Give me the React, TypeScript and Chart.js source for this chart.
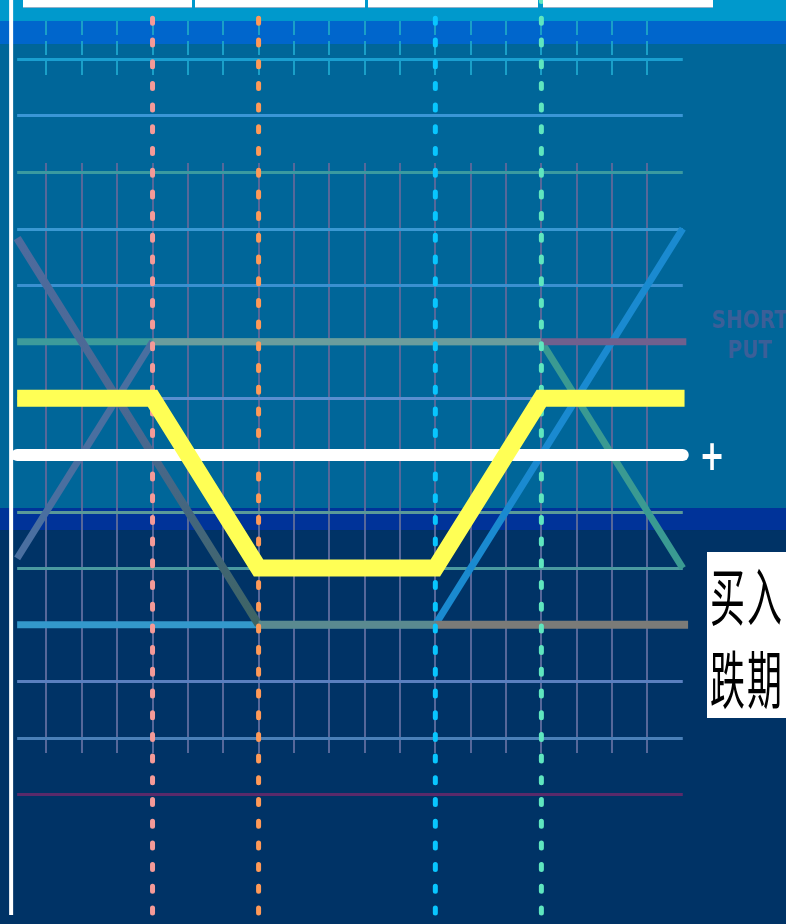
import React, { useEffect, useRef } from "react";
import { Chart, registerables } from "chart.js";

Chart.register(...registerables);

// ---- scale ranges (strike units / profit units)
const X_MIN = -0.315;
const X_MAX = 21.92;
const Y_MIN = -8.29;
const Y_MAX = 8.04;

// ---- strikes (dotted verticals)
const strikes = [4, 7, 12, 15];
const strikeColors = ["#f49a98", "#ff9a58", "#08c6ff", "#5fe6bf"];
const strikeTop = 8.1;
const strikeBottom = -8.3;

// ---- combined payoff (yellow)
const payoffX = [0.17, 4, 7, 12, 15, 19.05];
const payoffY = [1, 1, -2, -2, 1, 1];

// ---- legs
const shortCallX = [0.17, 15, 19];
const shortCallY = [2, 2, -2];
const shortCallSeg = ["#3d9b9b", "#3a9a92"];

const longCallX = [0.17, 12, 19];
const longCallY = [-3, -3, 4];
const longCallSeg = ["#3399cc", "#1a8ad0"];

const longPutX = [0.17, 7, 12, 19.15];
const longPutY = [3.83, -3, -3, -3];
const longPutSeg = ["grad", "#5a8a90", "#7b7b78"];

const shortPutX = [0.17, 4, 15, 19.1];
const shortPutY = [-1.83, 2, 2, 2];
const shortPutSeg = ["#4a6fa0", "#6b9d9d", "#70608e"];

// ---- zero line and left axis
const zeroX = [0.17, 19];
const zeroY = [0, 0];
const axisX = [0, 0];
const axisY = [8.1, -8.13];

// ---- grid
const gridX = [1, 2, 3, 4, 5, 6, 7, 8, 9, 10, 11, 12, 13, 14, 15, 16, 17, 18];
const gridXSpan = [5.16, -5.27];
const gridXTopSpan = [7.67, 6.68];
const gridY = [7, 6, 5, 4, 3, 1, -1, -2, -4, -5, -6];
const gridYColors = [
  "#1a9fd0",
  "#3a96d6",
  "#3a9aa0",
  "#3a98d2",
  "#3a90d0",
  "#5a8fd0",
  "#5a9a98",
  "#4a9aa0",
  "#5a80c0",
  "#4a80b8",
  "#5a2a6a",
];
const gridYSpan = [0.17, 19];

// ---- background bands [top, bottom, colour]
const bandTops = [Y_MAX, 7.669, 7.262, -0.938, -1.327];
const bandBottoms = [7.669, 7.262, -0.938, -1.327, Y_MIN];
const bandColors = ["#0099cc", "#0066cc", "#006699", "#003399", "#003366"];

const pts = (xs: number[], ys: number[]) => xs.map((x, i) => ({ x, y: ys[i] }));

const bgPlugin = {
  id: "bgGrid",
  beforeDraw(chart: any) {
    const { ctx, scales } = chart;
    const ys = scales.y;
    ctx.save();
    for (let i = 0; i < bandColors.length; i++) {
      const t = ys.getPixelForValue(bandTops[i]);
      const b = ys.getPixelForValue(bandBottoms[i]);
      ctx.fillStyle = bandColors[i];
      ctx.fillRect(0, t, chart.width, b - t + 0.5);
    }
    ctx.restore();
  },
  beforeDatasetsDraw(chart: any) {
    const { ctx, scales } = chart;
    const xs = scales.x;
    const ys = scales.y;
    ctx.save();
    ctx.lineWidth = 2;
    for (const gx of gridX) {
      const px = Math.round(xs.getPixelForValue(gx));
      ctx.strokeStyle = "#56689a";
      ctx.setLineDash([]);
      ctx.beginPath();
      ctx.moveTo(px, ys.getPixelForValue(gridXSpan[0]));
      ctx.lineTo(px, ys.getPixelForValue(gridXSpan[1]));
      ctx.stroke();
      ctx.strokeStyle = "#1aa0c8";
      ctx.setLineDash([14, 6]);
      ctx.beginPath();
      ctx.moveTo(px, ys.getPixelForValue(gridXTopSpan[0]));
      ctx.lineTo(px, ys.getPixelForValue(gridXTopSpan[1]));
      ctx.stroke();
    }
    ctx.setLineDash([]);
    ctx.lineWidth = 3;
    gridY.forEach((gy, i) => {
      const py = Math.round(ys.getPixelForValue(gy)) + 0.5;
      ctx.strokeStyle = gridYColors[i];
      ctx.beginPath();
      ctx.moveTo(xs.getPixelForValue(gridYSpan[0]), py);
      ctx.lineTo(xs.getPixelForValue(gridYSpan[1]), py);
      ctx.stroke();
    });
    ctx.restore();
  },
};

function longPutGradient(chart: any) {
  const ys = chart.scales.y;
  if (!ys) return "#4a6a90";
  const g = chart.ctx.createLinearGradient(0, ys.getPixelForValue(3.83), 0, ys.getPixelForValue(-3));
  g.addColorStop(0, "#4e6b9e");
  g.addColorStop(0.5, "#4a6890");
  g.addColorStop(1, "#3d6464");
  return g;
}

export default function App() {
  const canvasRef = useRef<HTMLCanvasElement | null>(null);

  useEffect(() => {
    const canvas = canvasRef.current;
    if (!canvas) return;

    const leg = (xs: number[], ys: number[], seg: string[], width: number, order: number) => ({
      data: pts(xs, ys),
      borderColor: seg[0] === "grad" ? "#4a6a90" : seg[0],
      borderWidth: width,
      pointRadius: 0,
      borderCapStyle: "butt",
      borderJoinStyle: "round",
      order,
      segment: {
        borderColor: (c: any) => {
          const s = seg[c.p0DataIndex];
          return s === "grad" ? longPutGradient(c.chart) : s;
        },
      },
    });

    const datasets: any[] = [
      {
        data: pts(payoffX, payoffY),
        borderColor: "#ffff55",
        borderWidth: 17,
        pointRadius: 0,
        borderCapStyle: "butt",
        borderJoinStyle: "miter",
        order: 0,
      },
      {
        data: pts(zeroX, zeroY),
        borderColor: "#ffffff",
        borderWidth: 12,
        pointRadius: 0,
        borderCapStyle: "round",
        order: 1,
      },
      ...strikes.map((s, i) => ({
        data: pts([s, s], [strikeTop, strikeBottom]),
        borderColor: strikeColors[i],
        borderWidth: 5,
        borderDash: [5, 16.7],
        borderCapStyle: "round",
        pointRadius: 0,
        order: 2 + i,
      })),
      leg(shortPutX, shortPutY, shortPutSeg, 7, 6),
      leg(longPutX, longPutY, longPutSeg, 8, 7),
      leg(shortCallX, shortCallY, shortCallSeg, 7, 8),
      leg(longCallX, longCallY, longCallSeg, 7, 9),
      {
        data: pts(axisX, axisY),
        borderColor: "#ffffff",
        borderWidth: 4,
        pointRadius: 0,
        order: 10,
      },
    ];

    const chart = new Chart(canvas, {
      type: "line",
      data: { datasets },
      options: {
        animation: false,
        responsive: false,
        maintainAspectRatio: false,
        devicePixelRatio: 1,
        layout: { padding: 0 },
        plugins: { legend: { display: false }, tooltip: { enabled: false } },
        elements: { line: { tension: 0 } },
        scales: {
          x: { type: "linear", min: X_MIN, max: X_MAX, display: false },
          y: { type: "linear", min: Y_MIN, max: Y_MAX, display: false },
        },
      } as any,
      plugins: [bgPlugin],
    } as any);

    return () => chart.destroy();
  }, []);

  const topBoxes = [
    [23, 192],
    [195, 365],
    [368, 538],
    [543, 713],
  ];

  return (
    <div
      style={{
        position: "absolute",
        left: 0,
        top: 0,
        width: 786,
        height: 924,
        overflow: "hidden",
        background: "#003366",
      }}
    >
      <canvas ref={canvasRef} width={786} height={924} style={{ display: "block" }} />
      {topBoxes.map(([a, b], i) => (
        <div
          key={i}
          style={{
            position: "absolute",
            left: a,
            top: 0,
            width: b - a,
            height: 7,
            background: "#ffffff",
            borderBottom: "1px solid #8fb0c8",
          }}
        />
      ))}
      <div
        style={{
          position: "absolute",
          left: 700,
          top: 304,
          width: 100,
          textAlign: "center",
          color: "#3b5f98",
          fontFamily: "'DejaVu Sans', sans-serif",
          fontWeight: "bold",
          fontSize: 20,
          lineHeight: "24px",
          transform: "scaleY(1.25)",
          transformOrigin: "top left",
        }}
      >
        SHORT
        <br />
        PUT
      </div>
      <div
        style={{
          position: "absolute",
          left: 697,
          top: 436,
          width: 30,
          height: 40,
          lineHeight: "40px",
          textAlign: "center",
          color: "#ffffff",
          fontFamily: "'DejaVu Sans', sans-serif",
          fontWeight: "bold",
          fontSize: 30,
          transform: "scaleY(1.4)",
          transformOrigin: "center",
        }}
      >
        +
      </div>
      <div
        style={{
          position: "absolute",
          left: 707,
          top: 552,
          width: 100,
          height: 166,
          background: "#ffffff",
          overflow: "hidden",
        }}
      >
        <div
          style={{
            position: "absolute",
            left: 3,
            top: 0,
            whiteSpace: "nowrap",
            color: "#000000",
            fontFamily: "'Noto Sans CJK SC', sans-serif",
            fontSize: 35,
            lineHeight: "45.5px",
            letterSpacing: 2,
            transform: "scaleY(1.8)",
            transformOrigin: "top left",
          }}
        >
          买入
          <br />
          跌期
        </div>
      </div>
    </div>
  );
}
